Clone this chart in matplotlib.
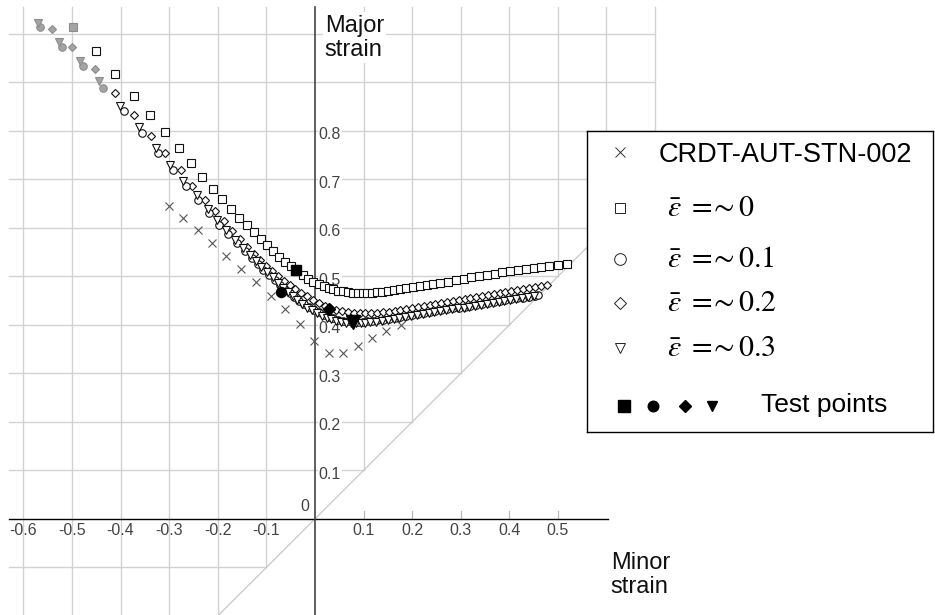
import numpy as np
import matplotlib.pyplot as plt

plt.rcParams['font.family'] = ['Liberation Sans', 'DejaVu Sans']
plt.rcParams['mathtext.fontset'] = 'stix'

# CRDT-AUT-STN-002 limit curve
crdt_minor = [-0.300, -0.271, -0.241, -0.212, -0.183, -0.152, -0.121, -0.091, -0.062, -0.031,
              -0.002, 0.029, 0.057, 0.088, 0.118, 0.147, 0.178]
crdt_major = [0.646, 0.621, 0.595, 0.569, 0.543, 0.516, 0.488, 0.459, 0.432, 0.401,
              0.366, 0.342, 0.342, 0.357, 0.374, 0.387, 0.399]

# eps_bar ~ 0 (squares)
sq_minor = [-0.497, -0.451, -0.411, -0.372, -0.339, -0.309, -0.280, -0.255, -0.232, -0.210,
            -0.191, -0.173, -0.156, -0.140, -0.125, -0.111, -0.098, -0.086, -0.073, -0.062,
            -0.050, -0.038, -0.025, -0.014, -0.003, 0.008, 0.018, 0.028, 0.038, 0.048,
            0.058, 0.068, 0.078, 0.088, 0.098, 0.108, 0.118, 0.128, 0.138, 0.150,
            0.162, 0.175, 0.188, 0.202, 0.216, 0.230, 0.244, 0.258, 0.274, 0.290,
            0.306, 0.322, 0.338, 0.354, 0.370, 0.386, 0.402, 0.418, 0.434, 0.450,
            0.466, 0.482, 0.500, 0.518]
sq_major = [1.015, 0.964, 0.918, 0.873, 0.833, 0.797, 0.764, 0.734, 0.706, 0.680,
            0.660, 0.639, 0.621, 0.606, 0.591, 0.578, 0.564, 0.552, 0.541, 0.530,
            0.521, 0.513, 0.503, 0.495, 0.489, 0.485, 0.481, 0.477, 0.474, 0.471,
            0.469, 0.467, 0.466, 0.465, 0.465, 0.465, 0.466, 0.467, 0.468, 0.470,
            0.472, 0.474, 0.476, 0.478, 0.480, 0.483, 0.485, 0.487, 0.489, 0.492,
            0.495, 0.498, 0.501, 0.504, 0.506, 0.509, 0.511, 0.513, 0.515, 0.517,
            0.519, 0.521, 0.523, 0.525]

# eps_bar ~ 0.1 (circles)
ci_minor = [-0.565, -0.521, -0.478, -0.436, -0.392, -0.356, -0.322, -0.293, -0.266, -0.240,
            -0.217, -0.197, -0.178, -0.160, -0.144, -0.130, -0.118, -0.106, -0.094, -0.083,
            -0.072, -0.062, -0.052, -0.042, -0.032, -0.022, -0.012, -0.002, 0.008, 0.018,
            0.028, 0.038, 0.048, 0.058, 0.068, 0.078, 0.088, 0.098, 0.108, 0.118,
            0.128, 0.140, 0.152, 0.164, 0.176, 0.188, 0.200, 0.212, 0.224, 0.236,
            0.248, 0.260, 0.272, 0.284, 0.296, 0.308, 0.320, 0.332, 0.344, 0.356,
            0.368, 0.380, 0.392, 0.404, 0.416, 0.428, 0.440, 0.452, 0.460]
ci_major = [1.015, 0.973, 0.933, 0.888, 0.842, 0.796, 0.754, 0.719, 0.686, 0.657,
            0.630, 0.607, 0.588, 0.569, 0.552, 0.538, 0.526, 0.514, 0.503, 0.492,
            0.482, 0.473, 0.465, 0.457, 0.450, 0.443, 0.437, 0.431, 0.426, 0.421,
            0.417, 0.414, 0.411, 0.409, 0.408, 0.407, 0.407, 0.407, 0.408, 0.409,
            0.410, 0.411, 0.413, 0.414, 0.416, 0.418, 0.420, 0.422, 0.424, 0.426,
            0.428, 0.430, 0.432, 0.434, 0.436, 0.438, 0.440, 0.442, 0.444, 0.446,
            0.448, 0.449, 0.451, 0.453, 0.455, 0.456, 0.458, 0.460, 0.461]

# eps_bar ~ 0.2 (diamonds)
di_minor = [-0.542, -0.499, -0.453, -0.411, -0.372, -0.337, -0.309, -0.276, -0.252, -0.226,
            -0.206, -0.187, -0.170, -0.154, -0.139, -0.125, -0.112, -0.100, -0.088, -0.076,
            -0.064, -0.052, -0.040, -0.028, -0.016, -0.004, 0.008, 0.020, 0.032, 0.044,
            0.056, 0.068, 0.080, 0.092, 0.104, 0.116, 0.128, 0.140, 0.152, 0.164,
            0.176, 0.188, 0.200, 0.212, 0.224, 0.236, 0.248, 0.260, 0.272, 0.284,
            0.296, 0.308, 0.320, 0.332, 0.344, 0.356, 0.368, 0.380, 0.392, 0.404,
            0.416, 0.428, 0.440, 0.452, 0.466, 0.478]
di_major = [1.010, 0.974, 0.928, 0.879, 0.832, 0.790, 0.754, 0.719, 0.686, 0.658,
            0.634, 0.614, 0.594, 0.577, 0.561, 0.547, 0.534, 0.522, 0.511, 0.501,
            0.491, 0.482, 0.474, 0.466, 0.459, 0.452, 0.446, 0.440, 0.435, 0.431,
            0.428, 0.426, 0.424, 0.424, 0.424, 0.424, 0.425, 0.426, 0.427, 0.429,
            0.431, 0.433, 0.435, 0.437, 0.439, 0.441, 0.443, 0.446, 0.448, 0.450,
            0.452, 0.454, 0.456, 0.458, 0.460, 0.462, 0.464, 0.466, 0.468, 0.470,
            0.472, 0.474, 0.476, 0.478, 0.480, 0.483]

# eps_bar ~ 0.3 (triangles)
tr_minor = [-0.569, -0.526, -0.484, -0.444, -0.401, -0.362, -0.327, -0.298, -0.271, -0.243,
            -0.221, -0.201, -0.183, -0.164, -0.148, -0.134, -0.121, -0.110, -0.098, -0.087,
            -0.076, -0.066, -0.056, -0.046, -0.036, -0.026, -0.016, -0.006, 0.004, 0.014,
            0.024, 0.034, 0.044, 0.054, 0.064, 0.074, 0.084, 0.094, 0.104, 0.114,
            0.126, 0.138, 0.150, 0.162, 0.174, 0.186, 0.198, 0.210, 0.222, 0.234,
            0.246, 0.258, 0.270, 0.282, 0.294, 0.306, 0.318, 0.330, 0.342, 0.354,
            0.366, 0.378, 0.390, 0.402, 0.414, 0.426, 0.438, 0.450]
tr_major = [1.023, 0.984, 0.945, 0.902, 0.852, 0.808, 0.765, 0.730, 0.697, 0.667,
            0.639, 0.616, 0.595, 0.576, 0.559, 0.545, 0.531, 0.520, 0.509, 0.498,
            0.487, 0.477, 0.468, 0.459, 0.451, 0.443, 0.436, 0.430, 0.424, 0.419,
            0.415, 0.412, 0.409, 0.407, 0.405, 0.404, 0.404, 0.404, 0.405, 0.406,
            0.407, 0.409, 0.410, 0.412, 0.414, 0.416, 0.418, 0.420, 0.422, 0.424,
            0.426, 0.428, 0.430, 0.432, 0.434, 0.436, 0.438, 0.440, 0.442, 0.444,
            0.446, 0.448, 0.450, 0.452, 0.454, 0.456, 0.458, 0.460]

# test points (square, circle, diamond, triangle)
test_minor = [-0.038, -0.069, 0.029, 0.079]
test_major = [0.513, 0.468, 0.432, 0.407]

x_ticks = [-0.6, -0.5, -0.4, -0.3, -0.2, -0.1, 0.1, 0.2, 0.3, 0.4, 0.5]
y_ticks = [0.1, 0.2, 0.3, 0.4, 0.5, 0.6, 0.7, 0.8]

fig = plt.figure(figsize=(9.35, 6.15), dpi=100)
ax = fig.add_axes([0, 0, 1, 1])
ax.set_xlim(-0.648, 1.276)
ax.set_ylim(-0.198, 1.070)
ax.axis('off')

grid_c = '#d2d2d2'
x_left, y_top, grid_right = -0.63, 1.056, 0.7

# grid only above the y = x line
for v in np.arange(-6, 8) / 10:
    if abs(v) < 1e-9:
        continue
    ax.plot([v, v], [max(v, -0.198), y_top], color=grid_c, lw=1.0, zorder=1)
for h in np.arange(-1, 11) / 10:
    if abs(h) < 1e-9:
        continue
    ax.plot([x_left, min(h, grid_right)], [h, h], color=grid_c, lw=1.0, zorder=1)

ax.plot([-0.198, 0.6], [-0.198, 0.6], color='#c8c8c8', lw=0.9, zorder=1)

for v in [0.1, 0.2, 0.3, 0.4, 0.5]:
    ax.plot([v, v], [0, 0.017], color='#b8b8b8', lw=0.9, zorder=2)

ax.plot([x_left, 0.603], [0, 0], color='black', lw=1.0, zorder=2)
ax.plot([0, 0], [-0.198, y_top], color='#444444', lw=1.2, zorder=2)

tick_c = '#444444'
for v in x_ticks:
    ax.text(v, -0.024, f'{v:.1f}', ha='center', va='center', fontsize=11.5, color=tick_c)
for h in y_ticks:
    ax.text(0.008, h - 0.008, f'{h:.1f}', ha='left', va='center', fontsize=11.5, color=tick_c,
            zorder=2.5, bbox=dict(fc='white', ec='none', pad=0.5))
ax.text(-0.02, 0.026, '0', ha='center', va='center', fontsize=11.5, color=tick_c)

ax.text(0.02, 1.04, 'Major\nstrain', ha='left', va='top', fontsize=17,
        linespacing=1.15, color='#111111', zorder=2.5,
        bbox=dict(fc='white', ec='none', pad=1.5))
ax.text(0.609, -0.068, 'Minor\nstrain', ha='left', va='top', fontsize=17,
        linespacing=1.15, color='#111111')

# data
ax.plot(crdt_minor, crdt_major, ls='none', marker='x', ms=6.2, mew=0.8,
        color='#555555', zorder=3)


def series(x, y, marker, ms, n_grey):
    ax.plot(x[n_grey:], y[n_grey:], ls='none', marker=marker, ms=ms, mfc='white',
            mec='#111111', mew=0.8, zorder=4)
    ax.plot(x[:n_grey], y[:n_grey], ls='none', marker=marker, ms=ms, mfc='#a4a4a4',
            mec='#8c8c8c', mew=0.8, zorder=4)


series(sq_minor, sq_major, 's', 5.4, 1)
series(di_minor, di_major, 'D', 4.3, 3)
series(ci_minor, ci_major, 'o', 5.4, 4)
series(tr_minor, tr_major, 'v', 6.1, 4)

test_markers = ['s', 'o', 'D', 'v']
test_sizes = [7.2, 7.2, 6.1, 9.4]
for xm, ym, mk, ms in zip(test_minor, test_major, test_markers, test_sizes):
    ax.plot(xm, ym, ls='none', marker=mk, ms=ms, color='black', zorder=5)

# legend box (pixel coordinates inside the box)
lax = fig.add_axes([587 / 935, 1 - 432 / 615, 346 / 935, 301 / 615])
lax.set_xlim(0, 346)
lax.set_ylim(301, 0)
lax.set_xticks([])
lax.set_yticks([])
for s in lax.spines.values():
    s.set_linewidth(1.0)
    s.set_color('black')

rows = [21, 77, 128, 172, 217, 275]
lax.plot(33, rows[0], marker='x', ms=7.9, mew=0.7, color='#333333')
lax.text(72, 24, 'CRDT-AUT-STN-002', ha='left', va='center', fontsize=19.5)

leg_markers = ['s', 'o', 'D', 'v']
leg_sizes = [7.6, 8.4, 6.4, 7.0]
leg_labels = [r'$\bar{\varepsilon}\ =\!\!\sim 0$', r'$\bar{\varepsilon}\ =\!\!\sim 0.1$',
              r'$\bar{\varepsilon}\ =\!\!\sim 0.2$', r'$\bar{\varepsilon}\ =\!\!\sim 0.3$']
for r, mk, ms, lab in zip(rows[1:5], leg_markers, leg_sizes, leg_labels):
    lax.plot(33, r, marker=mk, ms=ms, mfc='white', mec='#222222', mew=0.7)
    lax.text(80, r, lab, ha='left', va='center', fontsize=21.5)

for xm, mk, ms in zip([37, 66, 98, 125], test_markers, [8.0, 7.6, 6.1, 6.8]):
    lax.plot(xm, rows[5], marker=mk, ms=ms, color='black')
lax.text(174, 274, 'Test points', ha='left', va='center', fontsize=19)

fig.savefig('out.png', dpi=100)
